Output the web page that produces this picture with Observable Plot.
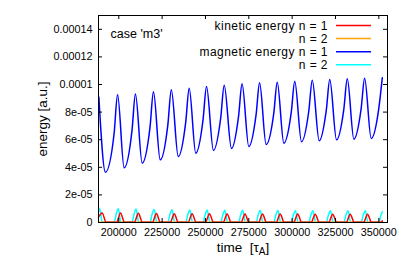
<!DOCTYPE html>
<html>
<head>
<meta charset="utf-8">
<script src="https://cdn.jsdelivr.net/npm/d3@7"></script>
<script src="https://cdn.jsdelivr.net/npm/@observablehq/plot@0.6"></script>
<style>
  html, body { margin: 0; padding: 0; background: white; }
  #chart { width: 407px; height: 271px; }
</style>
</head>
<body>
<div id="chart"></div>
<script>
// ---- data ----
const xTicks = [200000, 225000, 250000, 275000, 300000, 325000, 350000];
const yTicks = [0, 2e-5, 4e-5, 6e-5, 8e-5, 1e-4, 1.2e-4, 1.4e-4];
const yTickLabels = ["0", "2e-05", "4e-05", "6e-05", "8e-05", "0.0001", "0.00012", "0.00014"];

const legendLabels = ["kinetic energy n = 1", "n = 2", "magnetic energy n = 1", "n = 2"];
const legendColors = ["#ff0000", "#ffa500", "#0000ff", "#00ffff"];

// magnetic energy n = 1 (blue)
const blueTime = [188500,
  192300, 197300, 199300, 203100, 207600, 209600, 213500, 218000, 220000,
  223900, 228300, 230300, 234300, 238600, 240600, 244400, 248600, 250600,
  254600, 258800, 260800, 265000, 269100, 271100, 275000, 279200, 281200,
  285000, 289400, 291400, 295200, 299500, 301500, 305400, 309600, 311600,
  315600, 319700, 321700, 325600, 329800, 331800, 335600, 339800, 341800,
  345600, 350000, 352000];
const blueValue = [91.0e-6,
  36.5e-6, 64.5e-6, 92.5e-6, 39.6e-6, 66.4e-6, 93.2e-6, 43.0e-6, 68.9e-6, 94.7e-6,
  45.4e-6, 70.8e-6, 96.2e-6, 47.8e-6, 72.6e-6, 97.3e-6, 50.2e-6, 74.4e-6, 98.6e-6,
  52.2e-6, 75.9e-6, 99.5e-6, 53.6e-6, 77.1e-6, 100.5e-6, 55.0e-6, 78.1e-6, 101.2e-6,
  56.5e-6, 79.1e-6, 101.7e-6, 57.5e-6, 80.0e-6, 102.4e-6, 58.5e-6, 80.8e-6, 103.1e-6,
  59.2e-6, 81.4e-6, 103.6e-6, 59.9e-6, 82.0e-6, 104.1e-6, 60.4e-6, 82.5e-6, 104.6e-6,
  60.9e-6, 82.9e-6, 104.9e-6];

// magnetic energy n = 2 (cyan)
const cyanTime = [188400, 188900, 190500,
  197400, 198400, 199700, 201200,
  207700, 208700, 210000, 211500,
  218100, 219100, 220400, 221900,
  228400, 229400, 230700, 232200,
  238700, 239700, 241000, 242500,
  248700, 249700, 251000, 252500,
  258900, 259900, 261200, 262700,
  269200, 270200, 271500, 273000,
  279300, 280300, 281600, 283100,
  289500, 290500, 291800, 293300,
  299600, 300600, 301900, 303400,
  309700, 310700, 312000, 313500,
  319800, 320800, 322100, 323600,
  329900, 330900, 332200, 333700,
  339900, 340900, 342200, 343700,
  350100, 351100, 352000];
const cyanValue = [8.0e-6, 10.4e-6, 0.2e-6,
  0.2e-6, 5.5e-6, 10.0e-6, 0.2e-6,
  0.2e-6, 5.5e-6, 9.8e-6, 0.2e-6,
  0.2e-6, 5.4e-6, 9.5e-6, 0.2e-6,
  0.2e-6, 5.3e-6, 9.3e-6, 0.2e-6,
  0.2e-6, 5.2e-6, 9.1e-6, 0.2e-6,
  0.2e-6, 5.1e-6, 9.0e-6, 0.2e-6,
  0.2e-6, 5.0e-6, 8.9e-6, 0.2e-6,
  0.2e-6, 5.0e-6, 8.8e-6, 0.2e-6,
  0.2e-6, 5.0e-6, 8.7e-6, 0.2e-6,
  0.2e-6, 5.0e-6, 8.7e-6, 0.2e-6,
  0.2e-6, 4.9e-6, 8.6e-6, 0.2e-6,
  0.2e-6, 4.9e-6, 8.6e-6, 0.2e-6,
  0.2e-6, 4.9e-6, 8.6e-6, 0.2e-6,
  0.2e-6, 4.8e-6, 8.5e-6, 0.2e-6,
  0.2e-6, 4.8e-6, 8.5e-6, 0.2e-6,
  0.2e-6, 4.8e-6, 7.8e-6];

// kinetic energy n = 1 (red)
const redTime = [188300, 190400, 192700,
  198700, 201000, 203300,
  209000, 211300, 213600,
  219400, 221700, 224000,
  229700, 232000, 234300,
  240000, 242300, 244600,
  250000, 252300, 254600,
  260200, 262500, 264800,
  270500, 272800, 275100,
  280600, 282900, 285200,
  290800, 293100, 295400,
  300900, 303200, 305500,
  311000, 313300, 315600,
  321100, 323400, 325700,
  331200, 333500, 335800,
  341200, 343500, 345800,
  351400, 352000];
const redValue = [3.8e-6, 6.9e-6, 0.1e-6,
  0.1e-6, 6.9e-6, 0.1e-6,
  0.1e-6, 6.7e-6, 0.1e-6,
  0.1e-6, 6.5e-6, 0.1e-6,
  0.1e-6, 6.4e-6, 0.1e-6,
  0.1e-6, 6.3e-6, 0.1e-6,
  0.1e-6, 6.3e-6, 0.1e-6,
  0.1e-6, 6.2e-6, 0.1e-6,
  0.1e-6, 6.2e-6, 0.1e-6,
  0.1e-6, 6.1e-6, 0.1e-6,
  0.1e-6, 6.1e-6, 0.1e-6,
  0.1e-6, 6.1e-6, 0.1e-6,
  0.1e-6, 6.0e-6, 0.1e-6,
  0.1e-6, 6.0e-6, 0.1e-6,
  0.1e-6, 6.0e-6, 0.1e-6,
  0.1e-6, 6.0e-6, 0.1e-6,
  0.1e-6, 1.2e-6];

// kinetic energy n = 2 (orange) - lies on the zero line, hidden under red
const orangeTime = [188300, 220000, 250000, 280000, 310000, 340000, 352000];
const orangeValue = [0.1e-6, 0.1e-6, 0.1e-6, 0.1e-6, 0.1e-6, 0.1e-6, 0.1e-6];

// ---- build tables ----
const rows = (ts, vs) => ts.map((t, i) => ({t, v: vs[i]}));
const blue = rows(blueTime, blueValue);
const cyan = rows(cyanTime, cyanValue);
const red = rows(redTime, redValue);
const orange = rows(orangeTime, orangeValue);

const W = 407, H = 271, ML = 98, MR = 20, MT = 15, MB = 49;
const FW = W - ML - MR, FH = H - MT - MB;
const TICK = 4;
const font = "'Liberation Sans', Arial, Helvetica, sans-serif";
const xLabel = "time\u00a0\u00a0[\u03c4A]";

const plot = Plot.plot({
  width: W, height: H,
  marginLeft: ML, marginRight: MR, marginTop: MT, marginBottom: MB,
  style: {fontFamily: font, fontSize: "10.8px", background: "white", color: "#000", overflow: "visible"},
  x: {domain: [188300, 355000]},
  y: {domain: [0, 1.5e-4]},
  marks: [
    Plot.line(cyan, {x: "t", y: "v", stroke: legendColors[3], strokeWidth: 1.5, curve: "monotone-x"}),
    Plot.line(blue, {x: "t", y: "v", stroke: legendColors[2], strokeWidth: 1.5, curve: "monotone-x"}),
    Plot.line(orange, {x: "t", y: "v", stroke: legendColors[1], strokeWidth: 1.5, curve: "monotone-x"}),
    Plot.line(red, {x: "t", y: "v", stroke: legendColors[0], strokeWidth: 1.5, curve: "monotone-x"}),
    Plot.tickX(xTicks, {x: d => d, insetTop: FH - TICK, stroke: "#000"}),
    Plot.tickX(xTicks, {x: d => d, insetBottom: FH - TICK, stroke: "#000"}),
    Plot.tickY(yTicks, {y: d => d, insetRight: FW - TICK, stroke: "#000"}),
    Plot.tickY(yTicks, {y: d => d, insetLeft: FW - TICK, stroke: "#000"}),
    Plot.axisX({ticks: xTicks, tickSize: 0, tickPadding: 6, tickFormat: d => String(d), label: null, fontSize: 10.8}),
    Plot.axisY({ticks: yTicks, tickSize: 0, tickPadding: 6, tickFormat: d => yTickLabels[yTicks.indexOf(d)], label: null, fontSize: 10.8}),
    Plot.frame({stroke: "#000", strokeWidth: 1}),
    Plot.text(["case 'm3'"], {frameAnchor: "top-left", dx: 12, dy: 18, fontSize: 12.5, textAnchor: "start", lineAnchor: "middle", fill: "#000"}),
    Plot.text(["energy [a.u.]"], {frameAnchor: "left", rotate: -90, dx: -56, fontSize: 13.5, textAnchor: "middle", lineAnchor: "middle", fill: "#000"}),
    Plot.text([xLabel], {frameAnchor: "bottom", dy: 25, fontSize: 13.5, textAnchor: "middle", lineAnchor: "middle", fill: "#000"})
  ]
});

document.getElementById("chart").appendChild(plot);

// subscript A in the x label
d3.select(plot).selectAll("text").each(function () {
  if (this.textContent === xLabel) {
    this.innerHTML = "time\u00a0\u00a0[\u03c4<tspan dy='3' font-size='10'>A</tspan><tspan dy='-3'>]</tspan>";
  }
});

// key (gnuplot style, inside top-right)
const svg = d3.select(plot);
const key = svg.append("g").attr("font-family", font).attr("font-size", 12).attr("letter-spacing", "0.45px");
const keyRight = W - MR - 59, lineX1 = W - MR - 51, lineX2 = W - MR - 16;
legendLabels.forEach((lab, i) => {
  const y = MT + 10.5 + i * 13.1;
  key.append("text").attr("x", keyRight).attr("y", y).attr("dy", "0.35em")
    .attr("text-anchor", "end").attr("fill", "#000").text(lab);
  key.append("line").attr("x1", lineX1).attr("x2", lineX2).attr("y1", y).attr("y2", y)
    .attr("stroke", legendColors[i]).attr("stroke-width", 1.5);
});
</script>
</body>
</html>
